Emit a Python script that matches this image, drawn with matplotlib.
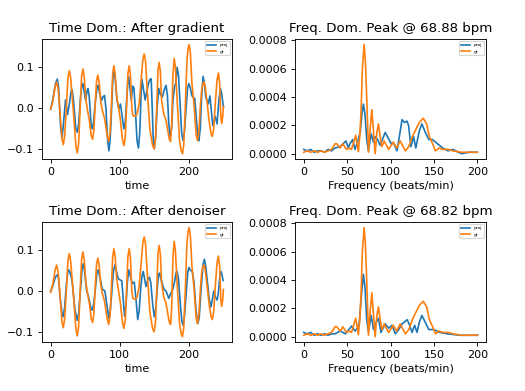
import matplotlib
matplotlib.use("Agg")
import matplotlib.pyplot as plt

# time domain, ground truth (same curve in both rows): (sample, value)
gt_time = [(0, -0.003), (3, 0.015), (6.5, 0.052), (8.7, 0.064), (11, 0.045), (13.5, -0.01),
           (16.3, -0.075), (18.3, -0.090), (20.3, -0.068), (22.7, 0.0), (25, 0.075), (27, 0.092),
           (29, 0.074), (33, -0.01), (36.5, -0.092), (38.5, -0.110), (40.5, -0.088), (42.7, 0.0),
           (44.8, 0.078), (46.7, 0.096), (48.7, 0.075), (51, 0.02), (53.5, -0.007), (56, -0.03),
           (58.8, -0.068), (60.7, -0.077), (62.6, -0.055), (64.5, 0.01), (66.5, 0.068),
           (68.4, 0.081), (70.3, 0.062), (72.5, 0.015), (75, -0.007), (78, -0.025), (82, -0.070),
           (84, -0.082), (86, -0.06), (88, 0.01), (89.8, 0.085), (91.5, 0.104), (93.3, 0.085),
           (95.5, 0.03), (98.3, 0.001), (101, -0.03), (104, -0.078), (106, -0.092), (108, -0.07),
           (109.8, 0.0), (111.8, 0.085), (113.7, 0.104), (115.5, 0.08), (117.5, 0.0),
           (119, -0.018), (122, -0.02), (125, -0.015), (128, 0.01), (131, 0.07), (133.5, 0.12),
           (135.4, 0.133), (137.3, 0.115), (140, 0.04), (143.5, -0.05), (147.5, -0.092),
           (149.8, -0.100), (151.8, -0.075), (153.5, 0.0), (155.3, 0.092), (157, 0.112),
           (158.8, 0.09), (160.5, 0.02), (163.8, -0.016), (167, -0.03), (171.5, -0.075),
           (173.5, -0.082), (175.2, -0.04), (176.9, 0.08), (178.7, 0.122), (180.5, 0.1),
           (183, 0.02), (186.5, -0.08), (189, -0.105), (190.8, -0.112), (192.6, -0.09),
           (194.8, 0.0), (197, 0.11), (198.6, 0.145), (200.4, 0.156), (202.2, 0.135),
           (204.5, 0.06), (207.6, 0.005), (210.5, -0.065), (212.4, -0.080), (214.4, -0.06),
           (216.5, 0.0), (218.5, 0.045), (220.2, 0.06), (222, 0.064), (223.8, 0.05),
           (226.9, 0.005), (230, -0.04), (232.2, -0.063), (234, -0.070), (236, -0.05),
           (238.2, 0.01), (240.8, 0.07), (242.8, 0.086), (244.6, 0.06), (246.2, -0.02),
           (247.6, -0.038), (249, -0.02), (250, 0.004)]

# time domain, projection after gradient
grad_time = [(0, -0.003), (3, 0.02), (7, 0.06), (9.6, 0.071), (11.5, 0.05), (14.5, -0.05),
             (16.5, -0.072), (18.5, -0.04), (21.5, 0.02), (24.5, -0.016), (27, 0.01),
             (29.5, 0.04), (31, 0.045), (33, 0.02), (36.5, -0.05), (38.5, -0.059), (40.5, -0.04),
             (43, 0.02), (45, 0.055), (46.7, 0.06), (48.5, 0.04), (50.6, 0.019), (52.5, 0.04),
             (54, 0.048), (55.8, 0.03), (58.5, -0.04), (60.2, -0.051), (62, -0.035), (65, 0.02),
             (67.2, 0.05), (68.9, 0.056), (71, 0.035), (73.7, 0.019), (76, 0.028), (78, 0.031),
             (80, 0.0), (82.5, -0.08), (84.3, -0.105), (86, -0.08), (88, -0.01), (90, 0.07),
             (91.5, 0.089), (93.5, 0.07), (96, 0.02), (98.7, -0.002), (101, 0.01), (103.5, -0.02),
             (106, -0.051), (108, -0.035), (110, 0.02), (111.5, 0.06), (113, 0.077),
             (114.8, 0.05), (116.6, 0.019), (118.5, 0.054), (120.4, 0.05), (122.5, 0.0),
             (125, -0.08), (127, -0.098), (129, -0.06), (130.8, 0.03), (132, 0.071),
             (134, 0.05), (136.8, 0.02), (139, 0.04), (141.6, 0.06), (143.5, 0.07),
             (145.5, 0.072), (147, 0.0), (148.5, -0.08), (150, -0.1), (152, -0.07), (154, 0.0),
             (156.5, 0.048), (158.5, 0.035), (161.5, 0.027), (164.5, 0.045), (167, 0.056),
             (169, 0.03), (171, -0.04), (173, -0.072), (175, -0.05), (177, 0.02), (179.5, 0.055),
             (181, 0.06), (183, 0.1), (185, 0.08), (187, 0.02), (189.5, -0.06), (191.7, -0.08),
             (193.5, -0.06), (196, 0.0), (198.2, 0.05), (200, 0.06), (202, 0.05), (204.5, 0.03),
             (208.6, 0.023), (211, -0.03), (213, -0.07), (214.5, -0.08), (216.5, -0.05),
             (218.5, 0.03), (220.6, 0.078), (222.5, 0.06), (224.5, 0.027), (228, 0.01),
             (230.5, 0.03), (234.6, -0.043), (238, -0.02), (240.8, -0.039), (243.5, 0.02),
             (245.7, 0.048), (247.5, 0.035), (250, 0.003)]

# time domain, projection after denoiser
den_time = [(0, 0.0), (3, 0.012), (7, 0.035), (9.6, 0.04), (11.5, 0.03), (14, -0.02),
            (16.5, -0.055), (18.3, -0.063), (20.2, -0.04), (23, 0.02), (25, 0.048), (26.5, 0.052),
            (28, 0.045), (30, 0.034), (32, 0.01), (35, -0.045), (38.5, -0.072), (40.5, -0.055),
            (43, 0.0), (45.5, 0.055), (47.2, 0.067), (49, 0.05), (52, 0.002), (55, -0.015),
            (58, -0.04), (60.2, -0.047), (62.5, -0.03), (65, 0.01), (67, 0.045), (68.9, 0.052),
            (71, 0.035), (74.7, 0.005), (78.5, 0.0), (81, -0.03), (84.3, -0.067), (86.5, -0.045),
            (89, 0.01), (91, 0.05), (93, 0.064), (95, 0.05), (98, 0.03), (101, 0.027),
            (103, 0.025), (105, -0.02), (107, -0.062), (109, -0.035), (111, 0.02), (113, 0.052),
            (115, 0.04), (118, 0.019), (121, 0.022), (123.5, -0.02), (126, -0.07), (128, -0.05),
            (130.5, 0.01), (132.5, 0.04), (134, 0.048), (136, 0.03), (138, 0.011), (141, 0.03),
            (143, 0.034), (145, 0.02), (147.5, -0.03), (150, -0.063), (152, -0.045),
            (154.5, 0.01), (156, 0.04), (157.5, 0.044), (159.5, 0.03), (164, 0.004), (167, 0.0),
            (171, -0.018), (174, -0.005), (176, 0.0), (179, 0.02), (181.5, 0.045), (183, 0.048),
            (185, 0.03), (188, -0.04), (190, -0.075), (191.7, -0.084), (193.5, -0.065),
            (196, -0.01), (198.3, 0.045), (200, 0.058), (202, 0.052), (205, 0.048), (207.5, 0.02),
            (210.5, -0.05), (213, -0.08), (215, -0.065), (217.5, 0.0), (220.5, 0.065),
            (222.5, 0.078), (224.5, 0.06), (227, 0.02), (229.5, -0.02), (232, -0.039),
            (234, -0.02), (236, 0.0), (238.5, -0.015), (241, -0.022), (243, 0.0), (245, 0.04),
            (246.6, 0.048), (248, 0.04), (249.5, 0.026)]

# frequency domain (bpm, power), ground truth
gt_freq = [(0, 0.00001), (4, 0.00002), (8, 0.00001), (12, 0.00002), (16, 0.00001),
           (20, 0.00002), (24, 0.00001), (28, 0.00002), (32, 0.00003), (36, 0.00007),
           (38, 0.00007), (42, 0.00004), (45, 0.00007), (49, 0.00003), (52, 0.00004),
           (55, 0.00003), (59.8, 0.00013), (62.9, 0.000014), (64.5, 0.00012), (66, 0.0003),
           (67.5, 0.0006), (69.5, 0.00077), (71, 0.00065), (72.5, 0.0004), (74.5, 0.00001),
           (76.5, 0.00018), (78.4, 0.00031), (80, 0.00018), (82.2, 0.0), (84.2, 0.00015),
           (86, 0.00021), (88, 0.00012), (90, 0.00005), (92.6, 0.00009), (97.7, 0.00003),
           (103, 0.00008), (107, 0.00004), (111, 0.00009), (117, 0.00002), (121, 0.00005),
           (125, 0.00012), (129, 0.00017), (133, 0.00022), (137.6, 0.00025), (141.5, 0.00021),
           (144.6, 0.00012), (148.4, 0.00007), (151.5, 0.00002), (156, 0.00004), (160, 0.00003),
           (166, 0.00003), (172, 0.00002), (181.5, 0.00001), (190, 0.00001), (200, 0.00001)]

# frequency domain, projection after gradient
grad_freq = [(0, 0.00003), (4, 0.00002), (8, 0.00003), (12, 0.00001), (16, 0.00002),
             (20, 0.00002), (24, 0.00001), (28, 0.00003), (32, 0.00002), (36, 0.00004),
             (42, 0.00005), (48.6, 0.00009), (51.3, 0.00004), (53.2, 0.00007), (56.3, 0.0001),
             (59, 0.00003), (61.8, 0.00008), (65, 0.00015), (67, 0.00028), (68.7, 0.00035),
             (70.5, 0.00028), (72.5, 0.0001), (74.5, 0.00002), (77.6, 0.00014), (80.3, 0.00008),
             (82, 0.00012), (85, 0.0001), (88, 0.00006), (93.8, 0.00015), (100.7, 0.00007),
             (103, 0.00008), (107.4, 0.00002), (113.2, 0.00024), (116, 0.00022),
             (118.8, 0.00023), (120.7, 0.0002), (123.4, 0.00005), (126.5, 0.00012),
             (129, 0.00004), (133, 0.00016), (136, 0.00021), (140, 0.00015), (144, 0.0001),
             (148, 0.0001), (152, 0.00008), (156, 0.00006), (160, 0.00004), (166, 0.00002),
             (172, 0.00003), (178, 0.00001), (182, 0.0), (190, 0.00001), (200, 0.00001)]

# frequency domain, projection after denoiser
den_freq = [(0, 0.00003), (4, 0.00002), (8, 0.00003), (12, 0.00001), (16, 0.00002),
            (20, 0.00001), (24, 0.00002), (28, 0.00001), (32, 0.00002), (36, 0.00002),
            (42, 0.00004), (48, 0.00002), (55.2, 0.000075), (59, 0.00004), (62, 0.00006),
            (64, 0.0001), (66.5, 0.0003), (68.7, 0.00044), (70.5, 0.00035), (72.5, 0.00012),
            (74.5, 0.000035), (77.6, 0.00015), (80.3, 0.00005), (83.4, 0.0001), (86, 0.00013),
            (88.9, 0.00003), (93.8, 0.00009), (97.7, 0.00006), (101.6, 0.00008),
            (105.4, 0.00002), (109.3, 0.00005), (113.2, 0.00009), (119, 0.00012),
            (122, 0.00008), (124.6, 0.00003), (127.7, 0.00008), (130.4, 0.00003),
            (133, 0.0001), (136, 0.00015), (140, 0.0001), (144, 0.00005), (149.4, 0.00005),
            (157, 0.00003), (165, 0.00002), (180, 0.00001), (200, 0.00001)]

titles = ["Time Dom.: After gradient", "Freq. Dom. Peak @ 68.88 bpm",
          "Time Dom.: After denoiser", "Freq. Dom. Peak @ 68.82 bpm"]

fig = plt.figure(figsize=(525 / 80, 391 / 80), dpi=80)
boxes = [[0.080, 0.593, 0.362, 0.307], [0.562, 0.593, 0.364, 0.307],
         [0.080, 0.125, 0.362, 0.307], [0.562, 0.125, 0.364, 0.307]]
axs = [fig.add_axes(b) for b in boxes]

panels = [(grad_time, gt_time), (grad_freq, gt_freq), (den_time, gt_time), (den_freq, gt_freq)]

for i, ax in enumerate(axs):
    proj, gt = panels[i]
    ax.plot([p[0] for p in proj], [p[1] for p in proj], label="proj")
    ax.plot([p[0] for p in gt], [p[1] for p in gt], label="gt")
    ax.set_title(titles[i])
    ax.legend(loc="upper right", fontsize=4)
    if i % 2 == 0:
        ax.set_xlabel("time")
    else:
        ax.set_xlabel("Frequency (beats/min)")
        ax.set_yticks([0, 0.0002, 0.0004, 0.0006, 0.0008])
        ax.set_yticklabels(["0.0000", "0.0002", "0.0004", "0.0006", "0.0008"])

fig.savefig("out.png", dpi=80)
